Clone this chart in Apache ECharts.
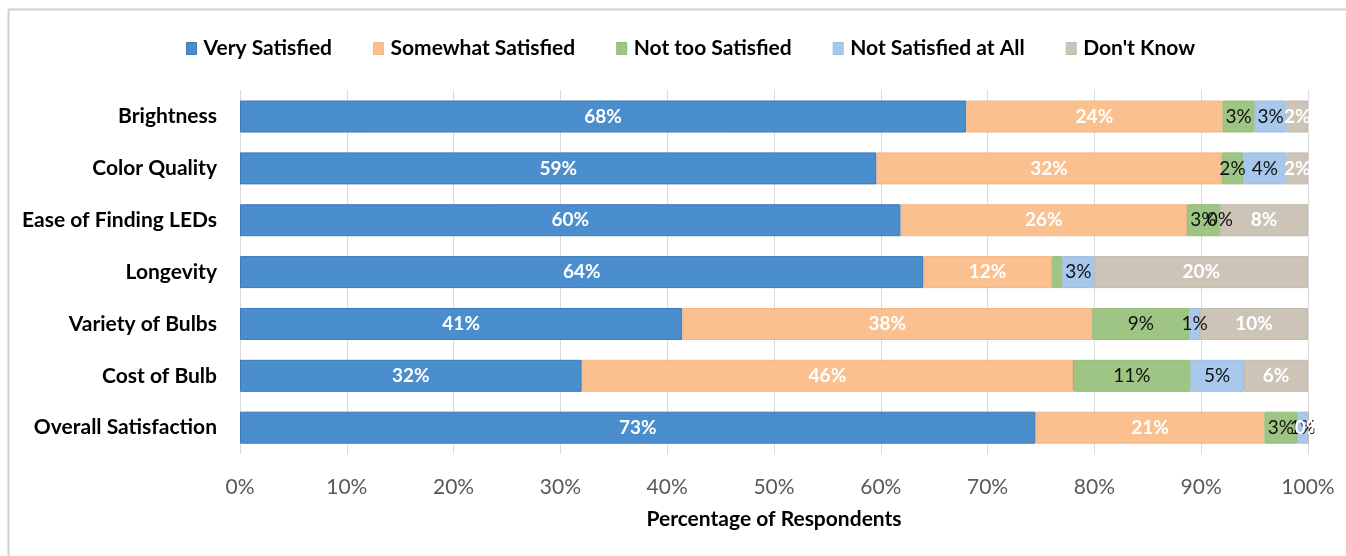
<!DOCTYPE html>
<html>
<head>
<meta charset="utf-8">
<title>LED Satisfaction</title>
<script src="https://cdn.jsdelivr.net/npm/echarts@6/dist/echarts.min.js"></script>
<style>
  html, body { margin: 0; padding: 0; background: #ffffff; }
  #chart { width: 1346px; height: 556px; }
</style>
</head>
<body>
<div id="chart"></div>
<script>
// Survey aspects, top to bottom
const categories = [
  'Brightness',
  'Color Quality',
  'Ease of Finding LEDs',
  'Longevity',
  'Variety of Bulbs',
  'Cost of Bulb',
  'Overall Satisfaction'
];

// Percent of respondents per answer, in the category order above
const verySatisfied     = [68, 59, 60, 64, 41, 32, 73];
const somewhatSatisfied = [24, 32, 26, 12, 38, 46, 21];
const notTooSatisfied   = [3, 2, 3, 1, 9, 11, 3];
const notSatisfiedAtAll = [3, 4, 0, 3, 1, 5, 1];
const dontKnow          = [2, 2, 8, 20, 10, 6, 0];

const xTicks = [0, 10, 20, 30, 40, 50, 60, 70, 80, 90, 100];

const FONT = 'Lato, "Liberation Sans", sans-serif';

const groups = [
  { name: 'Very Satisfied',       values: verySatisfied,     color: '#4A8ECD', border: '#3C79B7', light: true },
  { name: 'Somewhat Satisfied',   values: somewhatSatisfied, color: '#FAC08F', border: '#F3B682', light: true },
  { name: 'Not too Satisfied',    values: notTooSatisfied,   color: '#9FC584', border: '#93BA78', light: false },
  { name: 'Not Satisfied at All', values: notSatisfiedAtAll, color: '#A7C8EB', border: '#9BBDE0', light: false },
  { name: "Don't Know",           values: dontKnow,          color: '#CCC4B7', border: '#C2BAAD', light: true }
];

// 100% stacked: every row is scaled by its own total
const totals = categories.map((_, i) => groups.reduce((s, g) => s + g.values[i], 0));

// labels left off the plot (slivers too thin to hold text)
const hiddenLabels = { 'Not too Satisfied': [3] };

// category axis runs bottom-up, so reverse to list Brightness first
const order = categories.map((_, i) => categories.length - 1 - i);

const series = groups.map(g => ({
  name: g.name,
  type: 'bar',
  stack: 'total',
  barWidth: 32,
  itemStyle: { color: g.color, borderColor: g.border, borderWidth: 1 },
  emphasis: { disabled: true },
  label: {
    show: true,
    position: 'inside',
    fontFamily: FONT,
    fontSize: 19,
    fontWeight: g.light ? 'bold' : 'normal',
    color: g.light ? '#ffffff' : '#111111',
    formatter: p => p.data.raw + '%'
  },
  data: order.map(i => {
    const hide = (hiddenLabels[g.name] || []).includes(i);
    return {
      value: g.values[i] / totals[i] * 100,
      raw: g.values[i],
      label: hide ? { show: false } : undefined
    };
  })
}));

const chart = echarts.init(document.getElementById('chart'), null, { renderer: 'canvas' });
chart.setOption({
  animation: false,
  backgroundColor: '#ffffff',
  color: groups.map(g => g.color),
  legend: {
    top: 33,
    left: 181,
    itemWidth: 10,
    itemHeight: 12,
    itemGap: 41,
    icon: 'rect',
    textStyle: { fontFamily: FONT, fontSize: 21, fontWeight: 'bold', color: '#000000', padding: [0, 0, 0, 2] },
    data: groups.map(g => ({ name: g.name, itemStyle: { borderColor: g.border, borderWidth: 1 } }))
  },
  grid: { left: 240, right: 38, top: 90.6, height: 363, containLabel: false },
  xAxis: {
    type: 'value',
    min: xTicks[0],
    max: xTicks[xTicks.length - 1],
    interval: xTicks[1] - xTicks[0],
    name: 'Percentage of Respondents',
    nameLocation: 'middle',
    nameGap: 55,
    nameTextStyle: { fontFamily: FONT, fontSize: 21, fontWeight: 'bold', color: '#000000' },
    axisLine: { show: false },
    axisTick: { show: false },
    axisLabel: {
      fontFamily: FONT, fontSize: 21, color: '#595959', margin: 23,
      formatter: v => v + '%'
    },
    splitLine: { show: true, lineStyle: { color: '#D9D9D9', width: 1 } }
  },
  yAxis: {
    type: 'category',
    data: order.map(i => categories[i]),
    axisLine: { show: true, lineStyle: { color: '#D9D9D9', width: 1 } },
    axisTick: { show: false },
    axisLabel: { fontFamily: FONT, fontSize: 21, fontWeight: 'bold', color: '#000000', margin: 23 }
  },
  graphic: [
    { type: 'line', shape: { x1: 8.5, y1: 9.5, x2: 1346, y2: 9.5 }, style: { stroke: '#D0D0D0', lineWidth: 2 } },
    { type: 'line', shape: { x1: 8.5, y1: 9.5, x2: 8.5, y2: 556 }, style: { stroke: '#D0D0D0', lineWidth: 2 } }
  ],
  series: series
});
</script>
</body>
</html>
